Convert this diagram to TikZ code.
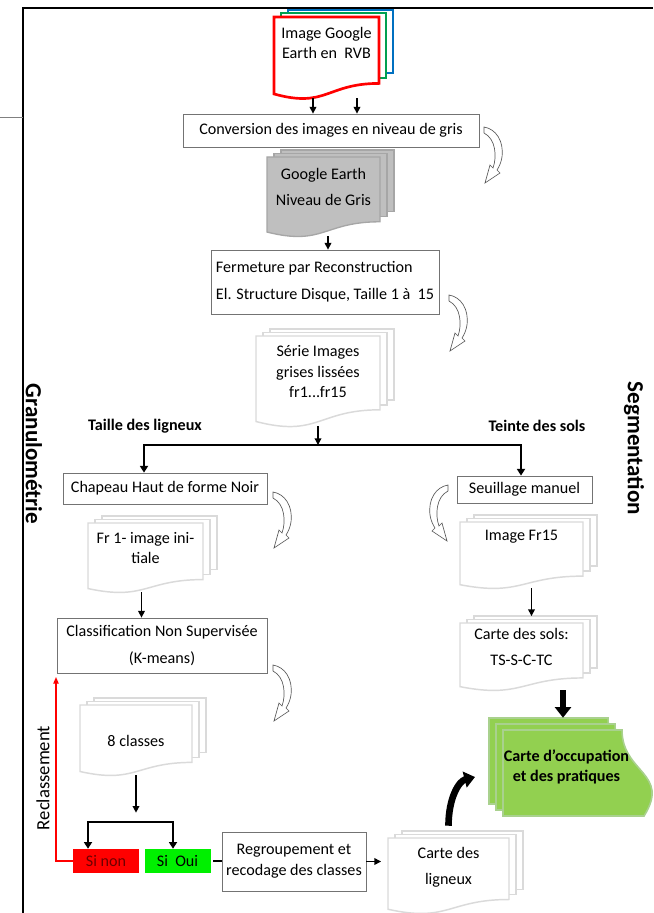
\documentclass[tikz,border=0pt]{standalone}
\usepackage{fontspec}
\setmainfont{Carlito}
\usetikzlibrary{arrows.meta,calc}

\definecolor{pageline}{RGB}{218,218,218}
\definecolor{greyfill}{RGB}{191,191,191}
\definecolor{greyline}{RGB}{166,166,166}
\definecolor{occfill}{RGB}{146,208,80}
\definecolor{occline}{RGB}{169,209,142}
\definecolor{ouifill}{RGB}{0,240,0}
\definecolor{nontext}{RGB}{110,0,0}
\definecolor{rgbgreen}{RGB}{0,160,80}
\definecolor{rgbblue}{RGB}{0,112,192}

\newcommand{\basefont}{\fontsize{12.1}{15.5}\selectfont}

\tikzset{
  procbox/.style={draw=black!55, line width=0.6pt, fill=white, align=center, inner sep=2pt},
  pagetext/.style={inner sep=0pt, text depth=16.8pt},
  light page/.style={draw=pageline, line width=1.1pt, fill=white},
  light mid/.style={light page},
  light back/.style={light page},
  gray page/.style={draw=greyline, line width=1pt, fill=greyfill},
  gray mid/.style={gray page},
  gray back/.style={gray page},
  rgb page/.style={draw=red, line width=2pt, fill=white},
  rgb mid/.style={draw=rgbgreen, line width=1.5pt, fill=white},
  rgb back/.style={draw=rgbblue, line width=1.5pt, fill=white},
  occpage/.style={draw=occline, line width=1.2pt, fill=occfill},
  arr/.style={line width=1pt, -{Triangle[length=5pt,width=5pt]}},
  forkline/.style={line width=1.6pt},
  forkarr/.style={forkline, -{Triangle[length=5pt,width=6pt]}},
  bigarr/.style={line width=5pt, -{Triangle[length=8pt,width=12pt]}},
  bendshape/.style={draw=black!65, line width=0.5pt, fill=white},
  choice/.style={minimum width=49.5pt, minimum height=18pt, inner sep=0pt},
  sidelabel/.style={font=\fontsize{17.3}{20}\selectfont\bfseries, rotate=-90}
}

% stacked page: name, kind, x1, y1, x2, y2 (lowest point of the wave), text
\newcommand{\pile}[7]{%
  \pgfmathsetmacro{\pyr}{#4+0.82*(#6-#4)}%
  \pgfmathsetmacro{\pyl}{#4+0.95*(#6-#4)}%
  \pgfmathsetmacro{\pyc}{#4+1.13*(#6-#4)}%
  \pgfmathsetmacro{\pxm}{0.5*(#3+#5)}%
  \draw[#2 back] ({#3+14},{#4-7}) rectangle ({#5+14},{\pyr-10});
  \draw[#2 mid] ({#3+7},{#4-3.5}) rectangle ({#5+7},{\pyr-5});
  \draw[#2 page] (#3,#4) -- (#5,#4) -- (#5,\pyr) .. controls (\pxm,\pyr) and (\pxm,\pyc) .. (#3,\pyl) -- cycle;
  \node[pagetext, minimum width=(#5-#3)*0.75pt, minimum height=(#6-#4)*0.75pt] (#1) at (\pxm,{0.5*(#4+#6)})
    {\begin{tabular}[b]{@{}c@{}}#7\end{tabular}};
}

% hollow curved arrow
\newcommand{\turnarrow}[3]{%
  \draw[bendshape, shift={(#1,#2)}, xscale=#3] (0,0) .. controls (12,2) and (20,14) .. (18,30)
    .. controls (17,36) and (15,40) .. (13,43) -- (16,46) -- (1,56) -- (6,38) -- (9,41)
    .. controls (13,30) and (12,12) .. (0,6) -- cycle;
}

\begin{document}
\begin{tikzpicture}[x=0.75pt, y=-0.75pt, font=\basefont]
\useasboundingbox (0,0) rectangle (653,913);

\draw[line width=2pt] (23,913) -- (23,8) -- (653,8);
\draw[black!50, line width=0.5pt] (0,117) -- (23,117);

% pages
\pile{rgb}{rgb}{274}{17}{379}{98}{Image Google\\Earth en~ RVB\\[-8pt]\mbox{}}
\pile{grey}{gray}{267}{157}{380}{236}{Google Earth\\[4.5pt]Niveau de Gris}
\pile{serie}{light}{256}{336}{380}{426}{Série Images\\grises lissées\\fr1...fr15}
\pile{fr1}{light}{88}{523}{203}{592}{Fr 1- image ini-\\tiale}
\pile{cls8}{light}{80}{705}{192}{775}{\mbox{}\\8 classes}
\pile{imgfr}{light}{460}{522}{583}{588}{Image Fr15\\\mbox{}}
\pile{sols}{light}{460}{623}{583}{690}{Carte des sols:\\[4.5pt]TS-S-C-TC}
\pile{lign}{light}{388}{838}{509}{913}{Carte des\\[4.5pt]ligneux}

\foreach \k in {2,1,0}
  \draw[occpage, shift={(-7*\k,-6*\k)}] (503,730) -- (622,730) .. controls (622,773) and (671,773) .. (644,816) -- (503,816) -- cycle;
\node[font=\basefont\bfseries, align=center, minimum width=95.25pt, minimum height=73.5pt] (occ) at (566.5,767) {Carte d’occupation\\et des pratiques};

% boxes
\node[procbox, minimum width=222pt, minimum height=24.75pt] (conv) at (331,130.5) {Conversion des images en niveau de gris};
\node[procbox, align=left, minimum width=171pt, minimum height=48pt] (ferm) at (325,282) {Fermeture par Reconstruction\\[4.5pt]El. Structure Disque, Taille 1 à~ 15};
\node[procbox, minimum width=153pt, minimum height=23.25pt] (chap) at (165,488.5) {Chapeau Haut de forme Noir};
\node[procbox, minimum width=157.5pt, minimum height=41.25pt] (clas) at (162,645.5) {Classification Non Supervisée\\[4.5pt](K-means)};
\node[procbox, minimum width=101.25pt, minimum height=20.25pt] (seuil) at (524.5,489.5) {Seuillage manuel};
\node[procbox, minimum width=108pt, minimum height=44.25pt] (regr) at (294,861.5) {Regroupement et\\recodage des classes};
\node[choice, fill=red, text=nontext] (sinon) at (106,861) {Si non};
\node[choice, fill=ouifill] (sioui) at (177.5,861) {Si~ Oui};

% labels
\node[font=\basefont\bfseries] (taille) at (145,426) {Taille des ligneux};
\node[font=\basefont\bfseries] (teinte) at (537,426) {Teinte des sols};
\node[sidelabel] (granulo) at (34,454) {Granulométrie};
\node[sidelabel] (segm) at (634,448.5) {Segmentation};
\node[font=\fontsize{14}{16}\selectfont, rotate=90] (reclass) at (43,778) {Reclassement};

\coordinate (fork1) at (318,445);
\coordinate (fork2) at (136,822);
\coordinate (back) at (56,677);
\coordinate (bendtip) at (475,777);

% connectors
\draw[arr] ($(rgb.south)+(-13.5,0)$) -- ($(rgb.south |- conv.north)+(-13.5,0)$);
\draw[arr] ($(rgb.south)+(30.5,0)$) -- ($(rgb.south |- conv.north)+(30.5,0)$);
\draw[arr] ($(grey.south)+(4.5,0)$) -- ($(grey.south |- ferm.north)+(4.5,0)$);
\draw[arr] (serie.south) -- (fork1);
\draw[forkarr] (fork1) -| ($(chap.north)+(-21,0)$);
\draw[forkarr] (fork1) -| ($(seuil.north)+(-3.5,0)$);
\draw[arr] ($(fr1.south)+(-4,0)$) -- ($(fr1.south |- clas.north)+(-4,0)$);
\draw[arr, shorten >=7pt] (cls8.south) -- (fork2);
\draw[forkarr] (fork2) -| ($(sinon.north)+(-18,0)$);
\draw[forkarr] (fork2) -| ($(sioui.north)+(-4.5,0)$);
\draw[red, line width=1pt, -{Triangle[length=5pt,width=4pt]}] (sinon.west) -| (back);
\draw[line width=1.2pt, shorten <=2pt] (sioui.east) -- (sioui.east -| regr.west);
\draw[arr, shorten >=5pt] (regr.east) -- (regr.east -| lign.west);
\draw[bigarr, shorten <=9pt] (lign.north) .. controls +(0,-40) and +(-16,4) .. (bendtip);
\draw[arr, shorten >=5pt] ($(imgfr.south)+(10,0)$) -- ($(imgfr.south |- sols.north)+(10,0)$);
\draw[bigarr] ($(sols.south)+(41.5,0)$) -- ($(occ.north)+(-3.5,0)$);

\turnarrow{484}{127}{1}
\turnarrow{449}{295}{1}
\turnarrow{273}{492}{1}
\turnarrow{273}{665}{1}
\turnarrow{448}{485}{-1}
\end{tikzpicture}
\end{document}
